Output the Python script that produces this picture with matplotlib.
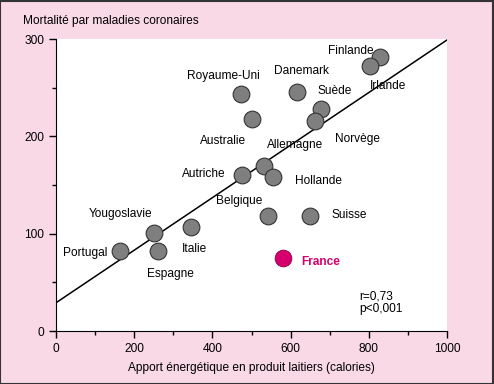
import matplotlib.pyplot as plt
from matplotlib.patches import Rectangle
from matplotlib.ticker import MultipleLocator

plt.rcParams['font.family'] = ['Liberation Sans', 'DejaVu Sans']

# pays, apport laitier (calories), mortalité coronaire
pays = ['Portugal', 'Yougoslavie', 'Espagne', 'Italie', 'Belgique', 'Suisse',
        'Autriche', 'Allemagne', 'Hollande', 'Royaume-Uni', 'Australie',
        'Danemark', 'Suède', 'Norvège', 'Finlande', 'Irlande']
calories = [164, 251, 261, 345, 542, 650, 476, 532, 555, 473, 501,
            616, 678, 662, 829, 803]
mortalite = [82, 101, 82, 107, 118, 118, 160, 170, 158, 244, 218,
             246, 228, 216, 281, 272]
france_x, france_y = 581, 75

# position des étiquettes (en unités des données)
label_x = [75, 165, 293, 355, 468, 749, 377, 611, 671, 427, 428,
           627, 713, 771, 753, 848]
label_y = [80, 120, 59, 84, 134, 119, 161, 191, 154, 262, 195,
           267, 247, 197, 288, 252]

trend_x = [0, 1000]
trend_y = [29, 299]

pink = '#f8d9e5'
fs = 8.6
fig = plt.figure(figsize=(4.94, 3.84), dpi=100, facecolor=pink)
ax = fig.add_axes([56/494, 53/384, 391/494, 292/384])
ax.set_facecolor('white')

ax.plot(trend_x, trend_y, color='black', lw=1.1, zorder=2)
ax.scatter(calories, mortalite, s=145, color='#7f7f7f', edgecolor='#333333',
           linewidth=0.8, zorder=3)
ax.scatter([france_x], [france_y], s=145, color='#d5006d', edgecolor='#8a0045',
           linewidth=0.6, zorder=3)

for name, lx, ly in zip(pays, label_x, label_y):
    ax.text(lx, ly, name, fontsize=fs, ha='center', va='center', zorder=4)
ax.text(676, 71, 'France', fontsize=fs, fontweight='bold', color='#d5006d',
        ha='center', va='center')
ax.text(775, 29, 'r=0,73\np<0,001', fontsize=fs, ha='left', va='center',
        linespacing=1.0)

ax.set_xlim(0, 1000)
ax.set_ylim(0, 300)
for s in ['top', 'right']:
    ax.spines[s].set_visible(False)
ax.xaxis.set_major_locator(MultipleLocator(200))
ax.xaxis.set_minor_locator(MultipleLocator(100))
ax.yaxis.set_major_locator(MultipleLocator(100))
ax.yaxis.set_minor_locator(MultipleLocator(50))
ax.tick_params(which='major', length=5, width=1, labelsize=fs, direction='out')
ax.tick_params(which='minor', length=3, width=1, direction='out')
ax.set_xlabel('Apport énergétique en produit laitiers (calories)', fontsize=fs,
              labelpad=5)

fig.text(23/494, 1 - 21/384, 'Mortalité par maladies coronaires', fontsize=fs,
         ha='left', va='center')
fig.patches.append(Rectangle((0.001, 0.001), 0.997, 0.997, transform=fig.transFigure,
                             fill=False, edgecolor='#333333', lw=1.5))

fig.savefig('out.png', dpi=100, facecolor=pink)
